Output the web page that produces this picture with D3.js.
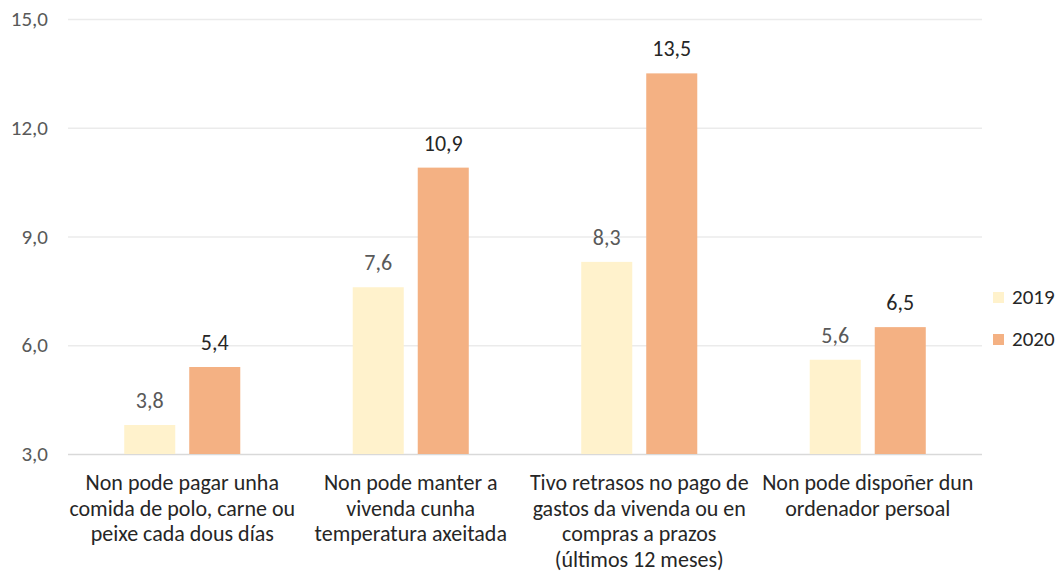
<!DOCTYPE html>
<html>
<head>
<meta charset="utf-8">
<title>Carencias materiais 2019-2020</title>
<style>
  body { margin: 0; background: #fff; }
  svg { font-family: Carlito, Calibri, Lato, sans-serif; }
  .grid line { stroke: #ebebeb; stroke-width: 1.5; }
  .grid text { fill: #595959; font-size: 21px; }
  .cat text { fill: #262626; font-size: 22px; }
</style>
</head>
<body>
<script src="https://cdnjs.cloudflare.com/ajax/libs/d3/7.8.5/d3.min.js"></script>
<script>
// data
var categories = [
  ["Non pode pagar unha", "comida de polo, carne ou", "peixe cada dous días"],
  ["Non pode manter a", "vivenda cunha", "temperatura axeitada"],
  ["Tivo retrasos no pago de", "gastos da vivenda ou en", "compras a prazos", "(últimos 12 meses)"],
  ["Non pode dispoñer dun", "ordenador persoal"]
];
var series = ["2019", "2020"];
var values2019 = [3.8, 7.6, 8.3, 5.6];
var values2020 = [5.4, 10.9, 13.5, 6.5];
var yTicks = [3, 6, 9, 12, 15];

var colors = { "2019": "#fff2cc", "2020": "#f4b183" };
var labelColors = { "2019": "#595959", "2020": "#262626" };

var W = 1061, H = 573;
var plot = { left: 68, right: 982, top: 19, bottom: 454 };

var svg = d3.select("body").append("svg")
    .attr("width", W)
    .attr("height", H);

var keys = categories.map(function(d, i) { return i; });

var x0 = d3.scaleBand().domain(keys).range([plot.left, plot.right]);
var x1 = d3.scaleBand().domain(series).range([0, x0.bandwidth()])
    .paddingInner(0.215).paddingOuter(0.865);
var y = d3.scaleLinear().domain([3, 15]).range([plot.bottom, plot.top]);

var fmt = function(v) { return d3.format(".1f")(v).replace(".", ","); };

// y axis + gridlines
var gy = svg.append("g")
    .attr("class", "grid")
    .attr("transform", "translate(" + plot.left + ",0)")
    .call(d3.axisLeft(y)
      .tickValues(yTicks)
      .tickSize(-(plot.right - plot.left))
      .tickPadding(20)
      .tickFormat(fmt))
    .attr("font-family", null)
    .attr("font-size", null);
gy.select(".domain").remove();
gy.selectAll(".tick line").filter(function(d) { return d === 3; })
    .style("stroke", "#d9d9d9");

// bars
var rows = keys.map(function(i) {
  return [
    { key: "2019", cat: i, value: values2019[i] },
    { key: "2020", cat: i, value: values2020[i] }
  ];
});

var groups = svg.selectAll(".group")
    .data(rows)
  .enter().append("g")
    .attr("class", "group")
    .attr("transform", function(d, i) { return "translate(" + x0(i) + ",0)"; });

groups.selectAll("rect")
    .data(function(d) { return d; })
  .enter().append("rect")
    .attr("x", function(d) { return x1(d.key); })
    .attr("width", x1.bandwidth())
    .attr("y", function(d) { return y(d.value); })
    .attr("height", function(d) { return y(3) - y(d.value); })
    .attr("fill", function(d) { return colors[d.key]; });

groups.selectAll("text")
    .data(function(d) { return d; })
  .enter().append("text")
    .attr("x", function(d) { return x1(d.key) + x1.bandwidth() / 2; })
    .attr("y", function(d) { return y(d.value) - 17; })
    .attr("text-anchor", "middle")
    .style("font-size", "22px")
    .attr("fill", function(d) { return labelColors[d.key]; })
    .text(function(d) { return fmt(d.value); });

// category axis
var gx = svg.append("g")
    .attr("class", "cat")
    .attr("transform", "translate(0," + plot.bottom + ")")
    .call(d3.axisBottom(x0).tickSize(0).tickFormat(""))
    .attr("font-family", null)
    .attr("font-size", null);
gx.select(".domain").remove();

gx.selectAll(".tick text").each(function(i) {
  var t = d3.select(this).attr("y", 36).attr("dy", null);
  categories[i].forEach(function(line, j) {
    t.append("tspan")
      .attr("x", 0)
      .attr("dy", j === 0 ? 0 : 25.5)
      .text(line);
  });
});

// legend
var legend = svg.selectAll(".legend")
    .data(series)
  .enter().append("g")
    .attr("class", "legend")
    .attr("transform", function(d, i) { return "translate(993," + (292 + i * 42) + ")"; });

legend.append("rect")
    .attr("width", 11)
    .attr("height", 11)
    .attr("fill", function(d) { return colors[d]; });

legend.append("text")
    .attr("x", 19)
    .attr("y", 12)
    .style("font-size", "21px")
    .attr("fill", "#262626")
    .text(function(d) { return d; });
</script>
</body>
</html>
